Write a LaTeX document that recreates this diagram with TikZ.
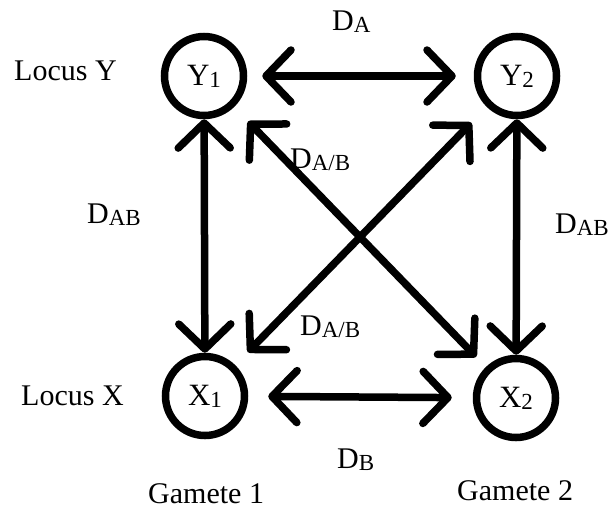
\documentclass[tikz,border=0pt]{standalone}
\usepackage{fontspec}
\setmainfont{Liberation Serif}
\usetikzlibrary{arrows.meta}
% letter with a lowered, smaller index
\newcommand{\withsub}[2]{#1\raisebox{-2pt}{\fontsize{23}{23}\selectfont #2}}
\tikzset{
  locus/.style={circle, draw, line width=7.5pt, minimum size=79pt, inner sep=0pt,
    font=\fontsize{31}{31}\selectfont},
  txt/.style={anchor=base west, inner sep=0pt, font=\fontsize{30}{36}\selectfont},
  link/.style={line width=7.5pt,
    {Straight Barb[length=25pt,width=52pt,round]}-{Straight Barb[length=25pt,width=52pt,round]}}
}
\begin{document}
\begin{tikzpicture}[x=1pt,y=-1pt]
  \fill[white] (0,0) rectangle (615,512);
  \useasboundingbox (0,0) rectangle (615,512);

  % the four loci
  \node[locus] (Y1) at (204,76) {\withsub{Y}{1}};
  \node[locus] (Y2) at (517,76) {\withsub{Y}{2}};
  \node[locus] (X1) at (205,396) {\withsub{X}{1}};
  \node[locus] (X2) at (516,398) {\withsub{X}{2}};

  % links between them
  \draw[link, shorten <=15pt, shorten >=18pt] (Y1) -- (Y2);
  \draw[link, shorten <=20pt, shorten >=21pt] (X1) -- (X2);
  \draw[link] (Y1) -- (X1);
  \draw[link] (Y2) -- (X2);
  \draw[link, shorten <=20pt, shorten >=14pt] (Y1) -- (X2);
  \draw[link, shorten <=22pt, shorten >=18pt] (Y2) -- (X1);

  % labels
  \node[txt] (lA)   at (332,30)  {\withsub{D}{A}};
  \node[txt] (lB)   at (337,468) {\withsub{D}{B}};
  \node[txt] (lABl) at (87,223)  {\withsub{D}{AB}};
  \node[txt] (lABr) at (555,233) {\withsub{D}{AB}};
  \node[txt] (lAB1) at (290,168) {\withsub{D}{A/B}};
  \node[txt] (lAB2) at (300,335) {\withsub{D}{A/B}};
  \node[txt] (locY) at (14,80)   {Locus Y};
  \node[txt] (locX) at (21,405)  {Locus X};
  \node[txt] (gam1) at (148,503) {Gamete 1};
  \node[txt] (gam2) at (457,500) {Gamete 2};
\end{tikzpicture}
\end{document}
